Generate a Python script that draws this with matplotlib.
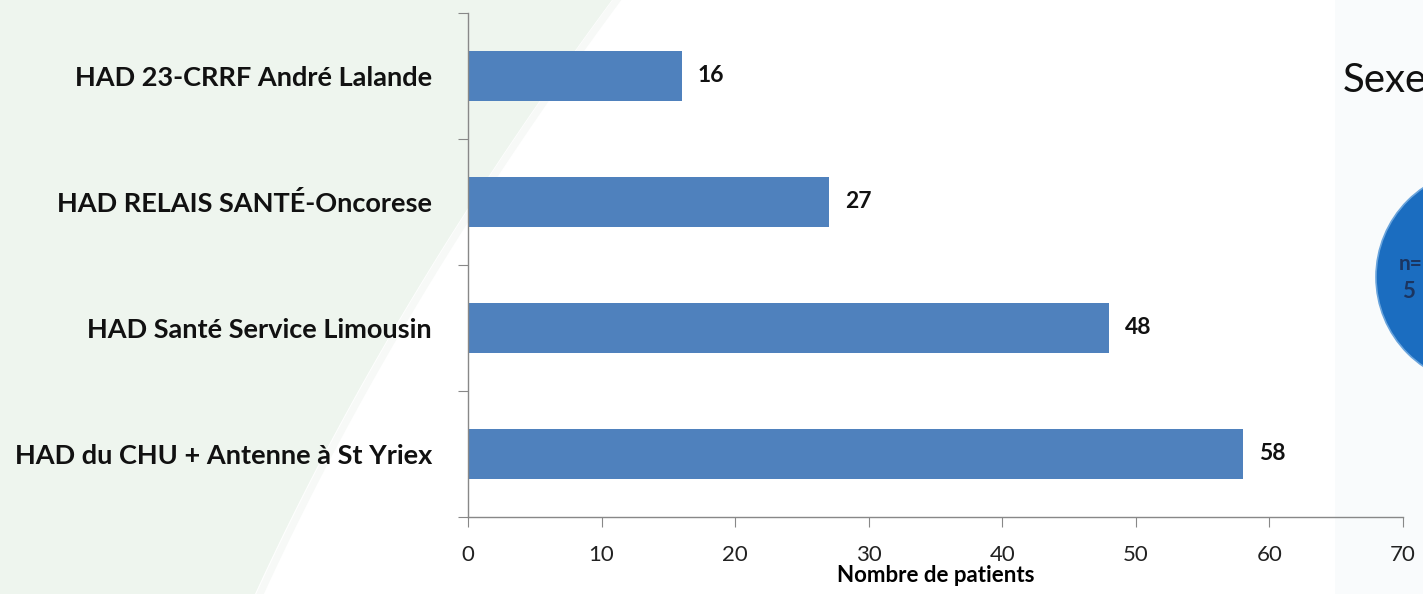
import matplotlib
matplotlib.use("Agg")
import matplotlib.pyplot as plt
from matplotlib.patches import Polygon, Circle, Rectangle
import numpy as np

# HAD structures and number of patients (top to bottom as shown)
structures = ["HAD 23-CRRF André Lalande",
              "HAD RELAIS SANTÉ-Oncorese",
              "HAD Santé Service Limousin",
              "HAD du CHU + Antenne à St Yriex"]
patients = [16, 27, 48, 58]
xticks = [0, 10, 20, 30, 40, 50, 60, 70]

W, H = 1423, 594
fig = plt.figure(figsize=(W / 100, H / 100), dpi=100)
fig.patch.set_facecolor("white")

# background slide decoration, in pixel coords
bg = fig.add_axes([0, 0, 1, 1], zorder=0)
bg.set_xlim(0, W)
bg.set_ylim(H, 0)
bg.axis("off")
t = np.linspace(0, 1, 80)
p0, p1, p2 = np.array([612, 0]), np.array([390, 300]), np.array([255, H])
curve = ((1 - t)[:, None] ** 2) * p0 + (2 * (1 - t) * t)[:, None] * p1 + (t[:, None] ** 2) * p2
pts = np.vstack([[0, 0], curve, [0, H]])
bg.add_patch(Polygon(pts, closed=True, facecolor="#eef5ee", edgecolor="none"))
bg.plot(curve[:, 0] + 5, curve[:, 1], color="#f7f9f7", lw=5)
bg.add_patch(Rectangle((1335, 0), W - 1335, H, facecolor="#f9fbfc", edgecolor="none"))
bg.add_patch(Circle((1484, 277), 108, facecolor="#1b6dc0", edgecolor="#6aa4dc", lw=1.2))
bg.text(1343, 92, "Sexe", fontsize=29, family="Lato", color="#111111", va="baseline")
bg.text(1399, 270, "n=", fontsize=15, family="Lato", weight="bold", color="#1b3560", va="baseline")
bg.text(1402, 298, "5", fontsize=16, family="Lato", weight="bold", color="#1b3560", va="baseline")

ax = fig.add_axes([468 / W, 1 - 517 / H, (1403 - 468) / W, (517 - 13) / H], zorder=1)
ax.patch.set_visible(False)

y = np.arange(len(structures))[::-1]
ax.barh(y, patients, height=0.39, color="#4f81bd")
for yi, v in zip(y, patients):
    ax.text(v + 1.2, yi, str(v), va="center", ha="left", fontsize=16.5,
            family="Lato", weight="bold", color="#111111")

ax.set_xlim(0, 70)
ax.set_ylim(-0.5, 3.5)
ax.set_xticks(xticks)
ax.set_xticklabels([str(x) for x in xticks], fontsize=16, family="Lato", color="#222222")
ax.set_yticks(np.arange(-0.5, 4, 1))
ax.set_yticklabels([])
ax.set_yticks(y, minor=True)
ax.set_yticklabels(structures, minor=True, fontsize=19.5, family="Lato", weight="bold", color="#111111")
ax.tick_params(axis="y", which="minor", length=0, pad=26)
ax.tick_params(axis="y", which="major", length=7, color="#888888", direction="out")
ax.tick_params(axis="x", length=7, color="#888888", direction="out", pad=13)
ax.set_xlabel("Nombre de patients", fontsize=16, family="Lato", weight="bold", labelpad=0)

for s in ["top", "right"]:
    ax.spines[s].set_visible(False)
for s in ["left", "bottom"]:
    ax.spines[s].set_color("#888888")
    ax.spines[s].set_linewidth(1)

fig.savefig("out.png", dpi=100)
